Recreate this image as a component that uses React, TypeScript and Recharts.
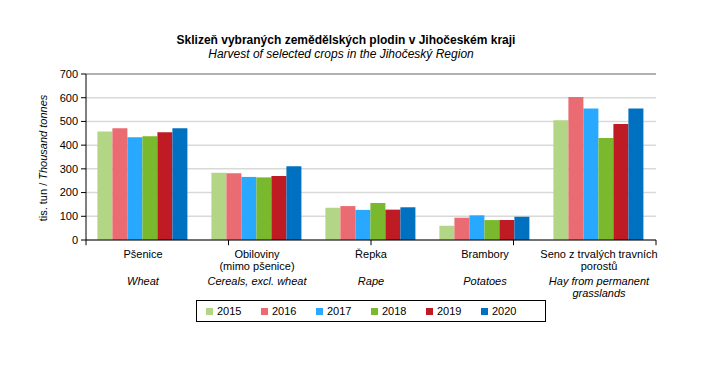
import React from 'react';
import { BarChart, Bar, XAxis, YAxis, CartesianGrid, ReferenceLine } from 'recharts';

const categoriesCz = [
    ['Pšenice'],
    ['Obiloviny', '(mimo pšenice)'],
    ['Řepka'],
    ['Brambory'],
    ['Seno z trvalých travních', 'porostů'],
];
const categoriesEn = [
    ['Wheat'],
    ['Cereals, excl. wheat'],
    ['Rape'],
    ['Potatoes'],
    ['Hay from permanent', 'grasslands'],
];
const years = ['2015', '2016', '2017', '2018', '2019', '2020'];
const v2015 = [458, 284, 136, 60, 505];
const v2016 = [471, 281, 143, 94, 603];
const v2017 = [433, 266, 127, 104, 554];
const v2018 = [437, 264, 156, 84, 430];
const v2019 = [454, 270, 128, 84, 489];
const v2020 = [471, 311, 138, 98, 554];
const yTicks = [0, 100, 200, 300, 400, 500, 600, 700];
const boundTicks = [0, 1, 2, 3, 4, 5];

const seriesValues = [v2015, v2016, v2017, v2018, v2019, v2020];
const colors = ['#b3d686', '#eb6b73', '#29a8ff', '#7ab82e', '#be1b24', '#0070c0'];

const data = categoriesCz.map((c, i) => {
    const row: Record<string, string | number> = { name: c.join(' ') };
    years.forEach((y, j) => {
        row[y] = seriesValues[j][i];
    });
    return row;
});

const FONT = '"Liberation Sans", Arial, sans-serif';

const CategoryTick = (props: any) => {
    const { x, y, index } = props;
    const cz = categoriesCz[index] || [];
    const en = categoriesEn[index] || [];
    return (
        <g>
            {cz.map((line, i) => (
                <text key={'cz' + i} x={x} y={y + 12 + i * 12} textAnchor="middle" fontSize={11} fill="#000" fontFamily={FONT}>
                    {line}
                </text>
            ))}
            {en.map((line, i) => (
                <text key={'en' + i} x={x} y={y + 39 + i * 12} textAnchor="middle" fontSize={11} fontStyle="italic" fill="#000" fontFamily={FONT}>
                    {line}
                </text>
            ))}
        </g>
    );
};

export default function App() {
    return (
        <div style={{ position: 'absolute', left: 0, top: 0, width: 722, height: 372, background: '#fff', fontFamily: FONT }}>
            <div style={{ position: 'absolute', left: 0, width: 692, top: 33, textAlign: 'center', fontSize: 12, fontWeight: 'bold' }}>
                Sklizeň vybraných zemědělských plodin v Jihočeském kraji
            </div>
            <div style={{ position: 'absolute', left: 0, width: 682, top: 47, textAlign: 'center', fontSize: 12, fontStyle: 'italic' }}>
                Harvest of selected crops in the Jihočeský Region
            </div>
            <div
                style={{
                    position: 'absolute',
                    left: 43,
                    top: 158,
                    transform: 'translate(-50%, -50%) rotate(-90deg)',
                    whiteSpace: 'nowrap',
                    fontSize: 11,
                }}
            >
                tis. tun / <i>Thousand tonnes</i>
            </div>
            <BarChart
                width={722}
                height={372}
                data={data}
                margin={{ top: 74, right: 66, bottom: 72, left: 0 }}
                barCategoryGap="10%"
                barGap={0}
            >
                <CartesianGrid vertical={false} stroke="#d9d9d9" strokeWidth={1.5} />
                <XAxis
                    dataKey="name"
                    interval={0}
                    tickLine={false}
                    axisLine={{ stroke: '#000' }}
                    tick={<CategoryTick />}
                    height={60}
                    tickMargin={0}
                />
                <XAxis xAxisId="bounds" type="number" domain={[0, 5]} ticks={boundTicks} hide />
                <YAxis
                    domain={[0, 700]}
                    ticks={yTicks}
                    width={86}
                    axisLine={{ stroke: '#000' }}
                    tickLine={{ stroke: '#000' }}
                    tickSize={5}
                    tickMargin={3}
                    tick={{ fontSize: 11, fill: '#000', fontFamily: FONT }}
                />
                <YAxis yAxisId="right" orientation="right" width={0} tick={false} tickLine={false} axisLine={{ stroke: '#808080' }} />
                <ReferenceLine y={700} stroke="#808080" />
                {years.map((y, j) => (
                    <Bar key={y} dataKey={y} fill={colors[j]} isAnimationActive={false} />
                ))}
                {boundTicks.map((b) => (
                    <ReferenceLine
                        key={'b' + b}
                        xAxisId="bounds"
                        segment={[
                            { x: b, y: 0 },
                            { x: b, y: -22 },
                        ]}
                        stroke="#000"
                        ifOverflow="visible"
                    />
                ))}
            </BarChart>
            <div
                style={{
                    position: 'absolute',
                    left: 196,
                    top: 300,
                    width: 348,
                    height: 20,
                    border: '1px solid #000',
                    display: 'flex',
                    alignItems: 'center',
                    justifyContent: 'center',
                    fontSize: 11,
                }}
            >
                {years.map((y, j) => (
                    <div key={y} style={{ display: 'flex', alignItems: 'center', width: 55 }}>
                        <span style={{ width: 7, height: 7, background: colors[j], marginRight: 4 }} />
                        {y}
                    </div>
                ))}
            </div>
        </div>
    );
}
